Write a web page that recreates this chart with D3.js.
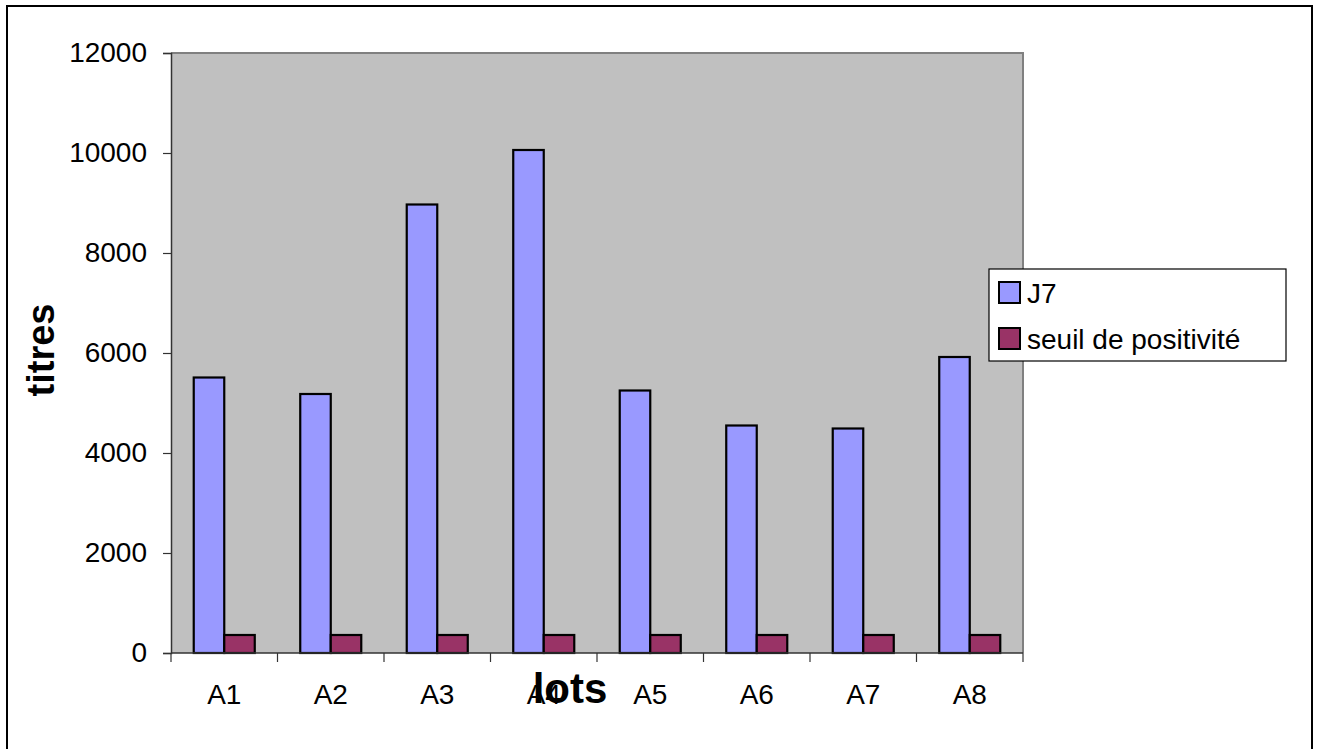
<!DOCTYPE html>
<html>
<head>
<meta charset="utf-8">
<script src="https://cdn.jsdelivr.net/npm/d3@7"></script>
<style>
  html, body { margin: 0; padding: 0; background: #fff; }
  svg { display: block; font-family: "Liberation Sans", Arial, sans-serif; }
</style>
</head>
<body>
<svg id="chart" width="1320" height="749"></svg>
<script>
// Lots tested and their titres
const lots = ["A1", "A2", "A3", "A4", "A5", "A6", "A7", "A8"];
const j7 = [5510, 5180, 8970, 10060, 5250, 4550, 4490, 5920];
const seuil = [360, 360, 360, 360, 360, 360, 360, 360];
const seriesNames = ["J7", "seuil de positivité"];
const seriesColors = ["#9999FF", "#993366"];
const yTicks = [0, 2000, 4000, 6000, 8000, 10000, 12000];

const svg = d3.select("#chart");

// outer chart frame
svg.append("rect")
  .attr("x", 7).attr("y", 6).attr("width", 1305).attr("height", 760)
  .attr("fill", "#fff").attr("stroke", "#000").attr("stroke-width", 2);

const plot = { left: 171, right: 1023, top: 53, bottom: 653 };

const x0 = d3.scaleBand()
  .domain(lots)
  .range([plot.left, plot.right])
  .paddingInner(0.427)
  .paddingOuter(0.2135);

const x1 = d3.scaleBand()
  .domain(seriesNames)
  .range([0, x0.bandwidth()])
  .padding(0);

const y = d3.scaleLinear().domain([0, 12000]).range([plot.bottom, plot.top]);

// plot area background
svg.append("rect")
  .attr("x", plot.left).attr("y", plot.top)
  .attr("width", plot.right - plot.left).attr("height", plot.bottom - plot.top)
  .attr("fill", "#C0C0C0");
// top and right border of plot area
svg.append("path")
  .attr("d", `M${plot.left},${plot.top}H${plot.right}V${plot.bottom}`)
  .attr("fill", "none").attr("stroke", "#808080").attr("stroke-width", 2);

// bars
const rows = lots.map((l, i) => ({ lot: l, values: [j7[i], seuil[i]] }));
const groups = svg.append("g").selectAll("g")
  .data(rows).join("g")
  .attr("transform", d => `translate(${x0(d.lot)},0)`);
groups.selectAll("rect")
  .data(d => d.values.map((v, k) => ({ name: seriesNames[k], v, k })))
  .join("rect")
  .attr("x", d => x1(d.name))
  .attr("width", x1.bandwidth())
  .attr("y", d => y(d.v))
  .attr("height", d => y(0) - y(d.v))
  .attr("fill", d => seriesColors[d.k])
  .attr("stroke", "#000").attr("stroke-width", 2.2);

// y axis
const yAxis = d3.axisLeft(y).tickValues(yTicks).tickSize(8).tickPadding(16).tickFormat(d3.format("d"));
const gy = svg.append("g").attr("transform", `translate(${plot.left},0)`).call(yAxis);
gy.select(".domain").attr("stroke", "#333").attr("stroke-width", 1.5);
gy.selectAll(".tick line").attr("stroke", "#333").attr("stroke-width", 1.2);
gy.selectAll(".tick text").attr("font-size", 28).attr("fill", "#000").attr("font-family", "Liberation Sans, Arial, sans-serif");

// x axis: ticks sit at the boundaries between lots
const xAxisLine = svg.append("g");
xAxisLine.append("line")
  .attr("x1", plot.left).attr("x2", plot.right)
  .attr("y1", plot.bottom).attr("y2", plot.bottom)
  .attr("stroke", "#333").attr("stroke-width", 1.5);
const step = x0.step();
const boundaries = d3.range(lots.length + 1).map(i => plot.left + i * step);
xAxisLine.selectAll(".bt").data(boundaries).join("line")
  .attr("x1", d => d).attr("x2", d => d)
  .attr("y1", plot.bottom).attr("y2", plot.bottom + 9)
  .attr("stroke", "#333").attr("stroke-width", 1.2);
xAxisLine.selectAll("text").data(lots).join("text")
  .attr("x", d => x0(d) + x0.bandwidth() / 2)
  .attr("y", 704)
  .attr("text-anchor", "middle")
  .attr("font-size", 28)
  .text(d => d);

// axis titles
svg.append("text")
  .attr("x", 570).attr("y", 703)
  .attr("text-anchor", "middle")
  .attr("font-size", 42).attr("font-weight", "bold")
  .text("lots");
svg.append("text")
  .attr("transform", "translate(54,350) rotate(-90)")
  .attr("text-anchor", "middle")
  .attr("font-size", 38).attr("font-weight", "bold")
  .text("titres");

// legend
const legend = svg.append("g");
legend.append("rect")
  .attr("x", 989).attr("y", 269).attr("width", 297).attr("height", 92)
  .attr("fill", "#fff").attr("stroke", "#000").attr("stroke-width", 1.2);
const items = legend.selectAll(".item").data(seriesNames).join("g")
  .attr("transform", (d, i) => `translate(999,${282 + i * 46})`);
items.append("rect")
  .attr("width", 21).attr("height", 21)
  .attr("fill", (d, i) => seriesColors[i])
  .attr("stroke", "#000").attr("stroke-width", 2);
items.append("text")
  .attr("x", 28).attr("y", 21)
  .attr("font-size", 28)
  .text(d => d);
</script>
</body>
</html>
